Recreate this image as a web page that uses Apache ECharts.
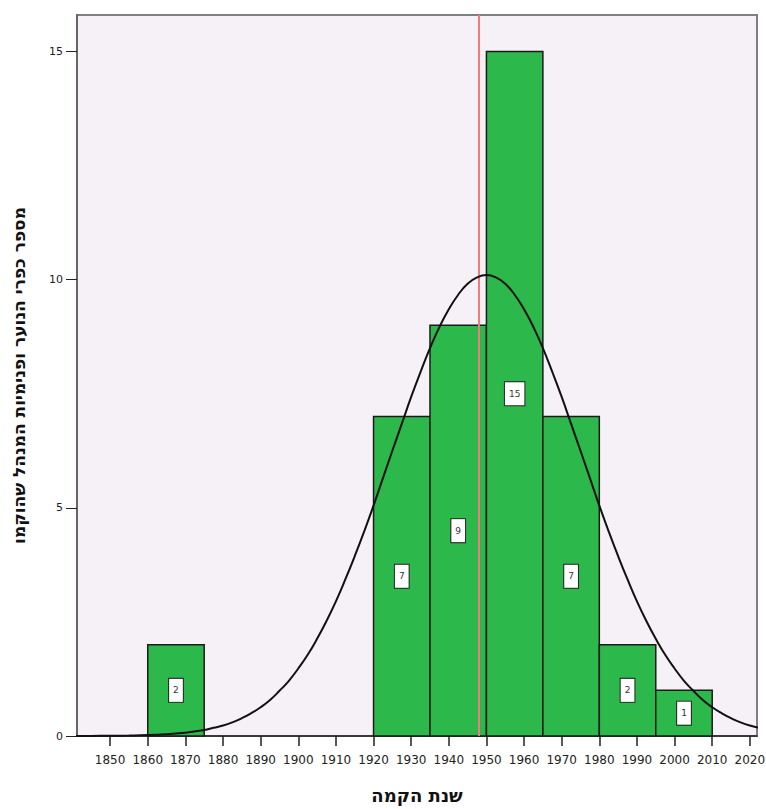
<!DOCTYPE html>
<html>
<head>
<meta charset="utf-8">
<script src="https://cdn.jsdelivr.net/npm/echarts@6/dist/echarts.min.js"></script>
<style>
html,body{margin:0;padding:0;background:#fff;}
#chart{width:766px;height:809px;}
</style>
</head>
<body>
<div id="chart"></div>
<script>
// histogram bins (year ranges) and counts
var binStart = [1860, 1920, 1935, 1950, 1965, 1980, 1995];
var binEnd = [1875, 1935, 1950, 1965, 1980, 1995, 2010];
var counts = [2, 7, 9, 15, 7, 2, 1];
// normal curve
var curveYears = [1840,1845,1850,1855,1860,1865,1870,1875,1877.5,1880,1882.5,1885,1887.5,1890,1892.5,1895,1897.5,1900,1902.5,1905,1907.5,1910,1912.5,1915,1917.5,1920,1922.5,1925,1927.5,1930,1932.5,1935,1937.5,1940,1942.5,1945,1947.5,1950,1952.5,1955,1957.5,1960,1962.5,1965,1967.5,1970,1972.5,1975,1977.5,1980,1982.5,1985,1987.5,1990,1992.5,1995,1997.5,2000,2002.5,2005,2007.5,2010,2012.5,2015,2017.5,2020,2022.5,2025];
var curveVals = [0.001,0.002,0.005,0.01,0.02,0.04,0.07,0.13,0.18,0.23,0.30,0.39,0.50,0.63,0.79,0.99,1.21,1.48,1.78,2.13,2.52,2.95,3.43,3.94,4.48,5.05,5.65,6.25,6.84,7.43,7.98,8.50,8.96,9.35,9.67,9.91,10.05,10.1,10.05,9.91,9.67,9.35,8.96,8.50,7.98,7.43,6.84,6.25,5.65,5.05,4.48,3.94,3.43,2.95,2.52,2.13,1.78,1.48,1.21,0.99,0.79,0.63,0.50,0.39,0.30,0.23,0.18,0.13];
var xTicks = [1850,1860,1870,1880,1890,1900,1910,1920,1930,1940,1950,1960,1970,1980,1990,2000,2010,2020];
var refYear = 1948;

var bins = [];
for (var i = 0; i < counts.length; i++) {
    bins.push([binStart[i], binEnd[i], counts[i]]);
}
var curve = [];
for (var i = 0; i < curveYears.length; i++) {
    curve.push([curveYears[i], curveVals[i]]);
}

var chart = echarts.init(document.getElementById('chart'), null, {renderer: 'svg'});
var option = {
    backgroundColor: '#fff',
    animation: false,
    grid: {
        left: 77, right: 9, top: 15, bottom: 73,
        outerBoundsMode: 'none',
        containLabel: false,
        show: true,
        backgroundColor: '#f6f1f6',
        borderColor: '#808080',
        borderWidth: 2
    },
    xAxis: {
        type: 'value',
        min: 1841.2,
        max: 2021.9,
        name: 'שנת הקמה',
        nameLocation: 'middle',
        nameGap: 50,
        nameTextStyle: {fontFamily: 'DejaVu Sans', fontWeight: 'bold', fontSize: 18, color: '#111'},
        splitLine: {show: false},
        axisLine: {show: true, lineStyle: {color: '#222', width: 1.5}},
        axisTick: {show: true, length: 10, customValues: xTicks, lineStyle: {color: '#222', width: 1.5}},
        axisLabel: {
            customValues: xTicks, margin: 18, fontFamily: 'DejaVu Sans', fontSize: 12, color: '#222',
            formatter: function (v) { return String(v); }
        }
    },
    yAxis: {
        type: 'value',
        min: 0,
        max: 15.8,
        interval: 5,
        name: 'מספר כפרי הנוער ופנימיות המנהל שהוקמו',
        nameLocation: 'middle',
        nameGap: 50,
        nameRotate: 90,
        nameTextStyle: {fontFamily: 'DejaVu Sans', fontWeight: 'bold', fontSize: 17, color: '#111'},
        splitLine: {show: false},
        axisLine: {show: true, lineStyle: {color: '#666', width: 2}},
        axisTick: {show: true, length: 11, lineStyle: {color: '#222', width: 1}},
        axisLabel: {margin: 14, fontFamily: 'DejaVu Sans', fontSize: 11, color: '#222', showMaxLabel: false}
    },
    series: [
        {
            type: 'custom',
            data: bins,
            z: 2,
            renderItem: function (params, api) {
                var p0 = api.coord([api.value(0), api.value(2)]);
                var p1 = api.coord([api.value(1), 0]);
                var mid = api.coord([(api.value(0) + api.value(1)) / 2, api.value(2) / 2]);
                return {
                    type: 'group',
                    children: [
                        {
                            type: 'rect',
                            shape: {x: p0[0], y: p0[1], width: p1[0] - p0[0], height: p1[1] - p0[1]},
                            style: {fill: '#2cb84b', stroke: '#1b1b1b', lineWidth: 1.5}
                        },
                        {
                            type: 'text',
                            x: mid[0], y: mid[1],
                            z2: 10,
                            style: {
                                text: String(api.value(2)),
                                align: 'center', verticalAlign: 'middle',
                                fontSize: 9, fontFamily: 'DejaVu Sans', fill: '#333',
                                backgroundColor: '#fff', borderColor: '#222', borderWidth: 1,
                                padding: [7, 4]
                            }
                        }
                    ]
                };
            }
        },
        {
            type: 'line',
            data: curve,
            smooth: true,
            showSymbol: false,
            clip: true,
            z: 5,
            lineStyle: {color: '#111', width: 2},
            markLine: {
                silent: true,
                symbol: 'none',
                label: {show: false},
                lineStyle: {color: '#f07a80', width: 2, type: 'solid'},
                data: [{xAxis: refYear}]
            }
        }
    ]
};
chart.setOption(option);
</script>
</body>
</html>
